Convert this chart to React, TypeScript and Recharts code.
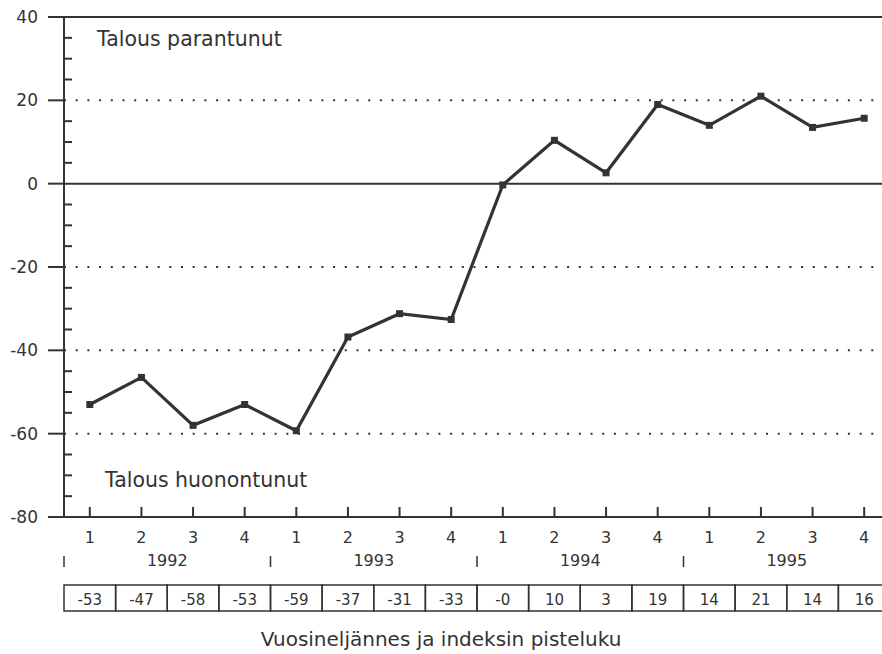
import { LineChart, Line, XAxis, YAxis, ReferenceLine } from "recharts";

// quarters 1992–1995, index points as plotted
const QUARTERS = ["1", "2", "3", "4", "1", "2", "3", "4", "1", "2", "3", "4", "1", "2", "3", "4"];
const YEARS = ["1992", "1993", "1994", "1995"];
const VALUES = [-53, -46.5, -58, -53, -59.3, -36.8, -31.2, -32.6, -0.3, 10.4, 2.6, 19, 14, 21, 13.5, 15.7];
const TABLE = ["-53", "-47", "-58", "-53", "-59", "-37", "-31", "-33", "-0", "10", "3", "19", "14", "21", "14", "16"];
const Y_TICKS = [-80, -75, -70, -65, -60, -55, -50, -45, -40, -35, -30, -25, -20, -15, -10, -5, 0, 5, 10, 15, 20, 25, 30, 35, 40];
const DOTTED = [20, -20, -40, -60];
const SOLID = [40, 0, -80];

const INK = "#333";
const FONT = "'DejaVu Sans', Verdana, sans-serif";
const W = 890;
const H = 654;
const LEFT = 64;
const BAND = (W - LEFT) / QUARTERS.length;

const data = VALUES.map((v, i) => ({ x: i + 1, v }));

function YTick(props: any) {
  const { x, y, payload } = props;
  const v = payload.value as number;
  if (v % 20 === 0) {
    return (
      <g>
        <line x1={x - 16} x2={x} y1={y} y2={y} stroke={INK} strokeWidth={2} />
        <text x={x - 26} y={y + 6} textAnchor="end" fontSize={17} fill={INK} fontFamily={FONT}>{v}</text>
      </g>
    );
  }
  return <line x1={x} x2={x + 8} y1={y} y2={y} stroke={INK} strokeWidth={2} />;
}

function XTick(props: any) {
  const { x, y, index } = props;
  const i = index as number;
  return (
    <g fontFamily={FONT} fill={INK}>
      <line x1={x} x2={x} y1={y - 10} y2={y} stroke={INK} strokeWidth={2} />
      <text x={x} y={y + 26} textAnchor="middle" fontSize={16}>{QUARTERS[i]}</text>
      {i % 4 === 0 && (
        <line x1={x - BAND / 2} x2={x - BAND / 2} y1={y + 39} y2={y + 50} stroke={INK} strokeWidth={1.5} />
      )}
      {i % 4 === 1 && (
        <text x={x + BAND / 2} y={y + 49} textAnchor="middle" fontSize={16}>{YEARS[Math.floor(i / 4)]}</text>
      )}
      <rect x={x - BAND / 2} y={y + 68} width={BAND} height={26} fill="none" stroke={INK} strokeWidth={1.5} />
      <text x={x} y={y + 88} textAnchor="middle" fontSize={15}>{TABLE[i]}</text>
    </g>
  );
}

function Square(props: any) {
  const { cx, cy } = props;
  return <rect x={cx - 3.5} y={cy - 3.5} width={7} height={7} fill={INK} />;
}

export default function App() {
  return (
    <div style={{ position: "absolute", left: 0, top: 0, width: 882, height: 654, overflow: "hidden", background: "#fff" }}>
      <LineChart width={W} height={H} data={data} margin={{ top: 17, right: 0, bottom: 0, left: 0 }}>
        <XAxis
          dataKey="x"
          type="number"
          domain={[0.5, 16.5]}
          ticks={data.map((d) => d.x)}
          height={137}
          tickSize={0}
          tickMargin={0}
          axisLine={{ stroke: INK, strokeWidth: 2 }}
          tick={<XTick />}
          interval={0}
        />
        <YAxis
          type="number"
          domain={[-80, 40]}
          ticks={Y_TICKS}
          width={LEFT}
          tickSize={0}
          tickMargin={0}
          axisLine={{ stroke: INK, strokeWidth: 2 }}
          tick={<YTick />}
          interval={0}
        />
        {DOTTED.map((v) => (
          <ReferenceLine key={v} y={v} stroke={INK} strokeWidth={2} strokeDasharray="2 9.7" />
        ))}
        {SOLID.map((v) => (
          <ReferenceLine key={v} y={v} stroke={INK} strokeWidth={2} />
        ))}
        <Line
          dataKey="v"
          stroke={INK}
          strokeWidth={3.2}
          dot={<Square />}
          activeDot={false}
          isAnimationActive={false}
        />
      </LineChart>
      <div style={{ position: "absolute", left: 97, top: 27, fontSize: 20.5, fontFamily: FONT, color: INK }}>Talous parantunut</div>
      <div style={{ position: "absolute", left: 105, top: 468, fontSize: 20.5, fontFamily: FONT, color: INK }}>Talous huonontunut</div>
      <div style={{ position: "absolute", left: 0, width: 882, top: 627, textAlign: "center", fontSize: 20, fontFamily: FONT, color: INK }}>
        Vuosineljännes ja indeksin pisteluku
      </div>
    </div>
  );
}
